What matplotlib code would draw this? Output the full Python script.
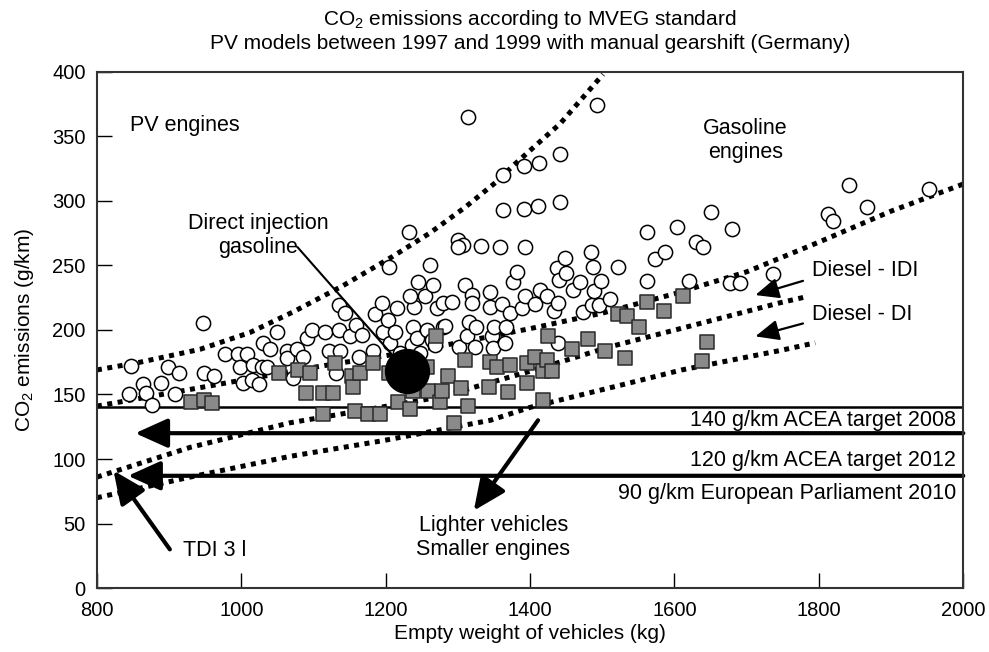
import matplotlib
matplotlib.use("Agg")
import matplotlib.pyplot as plt
import numpy as np

plt.rcParams['font.family'] = ['Liberation Sans', 'DejaVu Sans']
plt.rcParams['mathtext.fontset'] = 'custom'
plt.rcParams['mathtext.rm'] = 'Liberation Sans'
plt.rcParams['mathtext.it'] = 'Liberation Sans'

# gasoline models (open circles): empty weight (kg), CO2 (g/km)
gas_x = [844, 847, 864, 868, 876, 889, 898, 908, 914, 947, 948, 962, 977, 995, 998,
         1002, 1008, 1015, 1016, 1025, 1028, 1030, 1035, 1040, 1049, 1063, 1063, 1072,
         1077, 1085, 1091, 1098, 1116, 1121, 1131, 1135, 1135, 1137, 1144, 1151, 1159,
         1163, 1167, 1182, 1185, 1195, 1196, 1203, 1205, 1206, 1213, 1216, 1220, 1232,
         1236, 1238, 1239, 1243, 1245, 1248, 1254, 1234, 1257, 1261, 1264, 1266, 1268,
         1271, 1279, 1279, 1292, 1282, 1300, 1307, 1300, 1302, 1310, 1313, 1314, 1316,
         1320, 1320, 1324, 1325, 1332, 1345, 1345, 1347, 1349, 1350, 1358, 1361, 1362,
         1362, 1365, 1367, 1372, 1376, 1382, 1389, 1392, 1392, 1393, 1393, 1407, 1413,
         1411, 1414, 1423, 1433, 1437, 1439, 1439, 1440, 1442, 1442, 1448, 1450, 1460,
         1469, 1473, 1484, 1486, 1487, 1489, 1493, 1496, 1498, 1510, 1522, 1562, 1562,
         1573, 1587, 1603, 1620, 1630, 1640, 1650, 1680, 1677, 1691, 1737, 1812, 1820,
         1842, 1867, 1952]
gas_y = [150, 172, 158, 151, 142, 159, 171, 150, 167, 205, 167, 164, 181, 181, 171,
         159, 181, 161, 173, 158, 171, 190, 171, 185, 198, 184, 178, 163,
         185, 179, 194, 200, 198, 184, 167, 200, 219, 184, 213, 195, 204,
         179, 196, 184, 212, 221, 198, 208, 249, 190, 198, 217, 182, 276,
         188, 202, 218, 194, 237, 182, 226, 226, 200, 250, 192, 235, 188,
         217, 221, 202, 222, 203, 270, 266, 264, 187, 235, 195, 365, 206,
         227, 221, 187, 202, 265, 229, 218, 195, 186, 202, 264, 220, 320,
         293, 190, 202, 213, 237, 245, 217, 327, 294, 264, 226, 220, 329,
         296, 231, 226, 215, 248, 221, 190, 239, 336, 299, 256, 244, 231,
         237, 214, 260, 219, 249, 230, 374, 219, 238, 224, 249, 276, 238,
         255, 260, 280, 238, 268, 264, 291, 278, 236, 236, 243, 290, 284,
         312, 295, 309]

# diesel models (grey squares)
dsl_x = [930, 948, 960, 1052, 1078, 1095, 1090, 1113, 1127, 1113, 1130, 1153, 1155,
         1157, 1165, 1175, 1182, 1192, 1204, 1217, 1234, 1238, 1257, 1259, 1270, 1275,
         1278, 1286, 1294, 1304, 1310, 1314, 1343, 1345, 1354, 1369, 1372, 1396, 1396,
         1407, 1418, 1418, 1423, 1425, 1430, 1458, 1480, 1504, 1522, 1532, 1534, 1551,
         1562, 1585, 1612, 1638, 1645]
dsl_y = [144, 146, 143, 167, 169, 167, 151, 151, 151, 135, 174, 164, 156,
         137, 167, 135, 174, 135, 167, 144, 139, 153, 171, 153, 195, 144,
         153, 164, 128, 155, 177, 141, 156, 175, 171, 152, 173, 174, 159,
         179, 168, 146, 177, 195, 168, 185, 193, 184, 212, 178, 211, 202,
         222, 215, 226, 176, 191]

# direct injection gasoline
gdi_x, gdi_y = 1229, 168

# envelope curves
env1_x = [800, 860, 943, 1012, 1072, 1140, 1210, 1261, 1310, 1354, 1376, 1442, 1501]
env1_y = [169, 175, 185, 198, 214, 234, 257, 275, 295, 315, 327, 360, 398]
env2_x = [800, 900, 1000, 1100, 1200, 1300, 1400, 1500, 1600, 1700, 1800, 1900, 2000]
env2_y = [141, 151, 161, 171, 180, 190, 201, 213, 228, 245, 268, 292, 313]
env3_x = [800, 929, 1067, 1192, 1275, 1400, 1511, 1608, 1746, 1785]
env3_y = [86, 109, 128, 140, 148, 168, 187, 201, 221, 226]
env4_x = [800, 929, 1067, 1194, 1345, 1400, 1524, 1610, 1746, 1795]
env4_y = [70, 86, 102, 114, 130, 140, 157, 169, 184, 190]

# target levels
targets = [140, 120, 87]
target_labels = ["140 g/km ACEA target 2008", "120 g/km ACEA target 2012",
                 "90 g/km European Parliament 2010"]

fig = plt.figure(figsize=(9.89, 6.52), dpi=100)
ax = fig.add_axes([0.098, 0.098, 0.876, 0.792])
ax.set_xlim(800, 2000)
ax.set_ylim(0, 400)

dot = dict(color='k', lw=3.6, linestyle=(0, (1, 1.1)), dash_capstyle='butt', zorder=2)
for ex, ey in [(env1_x, env1_y), (env2_x, env2_y), (env3_x, env3_y), (env4_x, env4_y)]:
    ax.plot(ex, ey, **dot)

# target lines
ax.axhline(targets[0], color='k', lw=1.8, zorder=1.5)
ax.annotate('', xy=(853, targets[1]), xytext=(2000, targets[1]),
            arrowprops=dict(arrowstyle='-|>,head_length=1.0,head_width=0.45', lw=3,
                            color='k', mutation_scale=20, shrinkA=0, shrinkB=0), zorder=1.5)
ax.annotate('', xy=(843, targets[2]), xytext=(2000, targets[2]),
            arrowprops=dict(arrowstyle='-|>,head_length=1.0,head_width=0.45', lw=3,
                            color='k', mutation_scale=20, shrinkA=0, shrinkB=0), zorder=1.5)
label_y = [130, 99, 73]
for ly, lab in zip(label_y, target_labels):
    ax.text(1990, ly, lab, ha='right', va='center', fontsize=15.5)

ax.scatter(gas_x, gas_y, s=105, facecolor='white', edgecolor='k', linewidth=1.1, zorder=3)
ax.scatter(dsl_x, dsl_y, s=110, marker='s', facecolor='#8a8a8a', edgecolor='#2a2a2a',
           linewidth=1.1, zorder=4)
ax.scatter([gdi_x], [gdi_y], s=1000, color='k', zorder=5)

ax.plot([1078, gdi_x], [264, gdi_y], color='k', lw=1.5, zorder=4.5)

fs = 15.5
ax.text(846, 358, "PV engines", fontsize=fs, ha='left', va='center')
ax.text(1698, 347, "Gasoline\nengines", fontsize=fs, ha='center', va='center')
ax.text(1023, 273, "Direct injection\ngasoline", fontsize=fs, ha='center', va='center')
ax.text(1791, 246, "Diesel - IDI", fontsize=fs, ha='left', va='center')
ax.text(1791, 212, "Diesel - DI", fontsize=fs, ha='left', va='center')
ax.text(1349, 39, "Lighter vehicles\nSmaller engines", fontsize=fs, ha='center', va='center')
ax.text(919, 29, "TDI 3 l", fontsize=fs, ha='left', va='center')

small = dict(arrowstyle='-|>,head_length=0.8,head_width=0.35', lw=1.6, color='k',
             mutation_scale=18, shrinkA=0, shrinkB=0)
ax.annotate('', xy=(1712, 227), xytext=(1778, 238), arrowprops=small)
ax.annotate('', xy=(1712, 195), xytext=(1778, 205), arrowprops=small)
big = dict(arrowstyle='-|>,head_length=1.0,head_width=0.45', lw=3, color='k',
           mutation_scale=20, shrinkA=0, shrinkB=0)
ax.annotate('', xy=(1322, 60), xytext=(1411, 130), arrowprops=big, zorder=6)
ax.annotate('', xy=(823, 91), xytext=(901, 30), arrowprops=big, zorder=6)

ax.set_xticks(np.arange(800, 2001, 200))
ax.set_yticks(np.arange(0, 401, 50))
ax.tick_params(direction='in', length=11, width=1, labelsize=14.5)
ax.tick_params(axis='x', pad=9)
ax.tick_params(axis='y', pad=8)
for sp in ax.spines.values():
    sp.set_linewidth(1.5)
    sp.set_color('#333333')

ax.set_xlabel("Empty weight of vehicles (kg)", fontsize=15, labelpad=3)
ax.set_ylabel("CO$_2$ emissions (g/km)", fontsize=15, labelpad=12)
ax.set_title("CO$_2$ emissions according to MVEG standard\n"
             "PV models between 1997 and 1999 with manual gearshift (Germany)",
             fontsize=15, pad=16)

fig.savefig("out.png", dpi=100)
